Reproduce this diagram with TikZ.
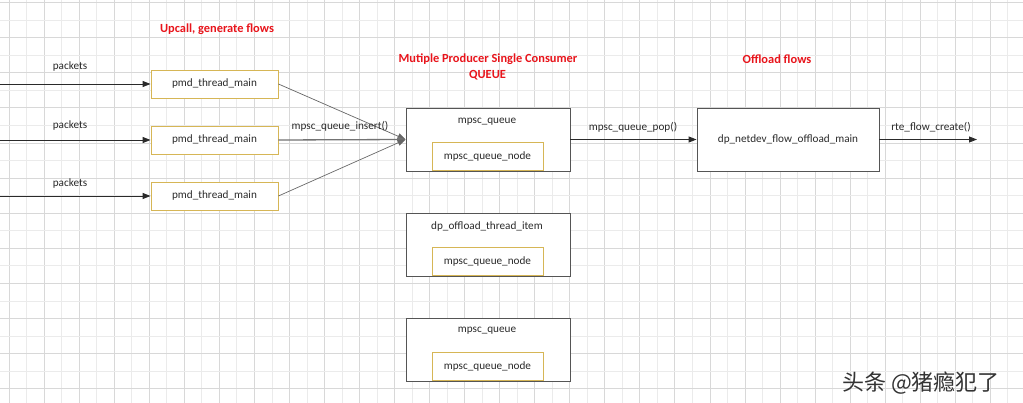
\documentclass[tikz,border=0pt]{standalone}
\usepackage{fontspec}
\setmainfont{Carlito}
\newfontfamily\cjk{Noto Sans CJK SC}
\usetikzlibrary{arrows.meta}
\definecolor{gold}{HTML}{D6B656}
\definecolor{boxline}{HTML}{555555}
\definecolor{txt}{HTML}{2A2A2A}
\definecolor{titlered}{RGB}{232,20,27}
\definecolor{gridminor}{HTML}{EBEBEB}
\definecolor{gridmajor}{HTML}{D8D8D8}
\begin{document}
\begin{tikzpicture}[x=1pt,y=-1pt,
  font=\fontsize{11.2}{13}\selectfont,
  txtnode/.style={inner sep=0pt,text=txt},
  title/.style={inner sep=0pt,text=titlered,font=\fontsize{12.4}{14}\selectfont\bfseries},
  goldbox/.style={draw=gold,line width=0.9pt,fill=white,inner sep=0pt,text=txt},
  greybox/.style={draw=boxline,line width=0.9pt,fill=white,inner sep=0pt,text=txt},
  flow/.style={draw=txt,line width=0.9pt,-{Triangle[length=8pt,width=6pt]}},
  merge/.style={draw=black!60,line width=0.7pt,-{Triangle[length=8pt,width=6pt]}}
]
\useasboundingbox (0,0) rectangle (1023,403);
\fill[white] (0,0) rectangle (1023,403);
% grid
\foreach \i in {0,...,58}{
  \pgfmathparse{mod(\i,2)==0 ? 1 : 0}
  \ifnum\pgfmathresult=1
    \draw[gridmajor,line width=0.6pt] ({9+17.52*\i},0) -- ({9+17.52*\i},403);
  \else
    \draw[gridminor,line width=0.6pt] ({9+17.52*\i},0) -- ({9+17.52*\i},403);
  \fi
}
\foreach \j in {0,...,22}{
  \pgfmathparse{mod(\j,2)==0 ? 1 : 0}
  \ifnum\pgfmathresult=1
    \draw[gridmajor,line width=0.6pt] (0,{2.5+17.55*\j}) -- (1023,{2.5+17.55*\j});
  \else
    \draw[gridminor,line width=0.6pt] (0,{2.5+17.55*\j}) -- (1023,{2.5+17.55*\j});
  \fi
}

% titles
\node[title] (t1) at (217,29) {Upcall, generate flows};
\node[title] (t2) at (488,59) {Mutiple Producer Single Consumer};
\node[title] (t3) at (487.5,75) {QUEUE};
\node[title] (t4) at (777,59) {Offload flows};

% pmd boxes
\node[goldbox,minimum width=127pt,minimum height=28pt] (p1) at (214.5,84) {pmd\_thread\_main};
\node[goldbox,minimum width=127pt,minimum height=28pt] (p2) at (214.5,140) {pmd\_thread\_main};
\node[goldbox,minimum width=127pt,minimum height=28pt] (p3) at (214.5,196) {pmd\_thread\_main};

\coordinate (s1) at (0,84);
\coordinate (s2) at (0,140);
\coordinate (s3) at (0,196);
\draw[flow] (s1) -- (p1.west);
\draw[flow] (s2) -- (p2.west);
\draw[flow] (s3) -- (p3.west);
\node[txtnode] (l1) at (70,67) {packets};
\node[txtnode] (l2) at (70,126) {packets};
\node[txtnode] (l3) at (70,184) {packets};

% mpsc queue box
\node[greybox,minimum width=164pt,minimum height=63pt] (q1) at (488,139.5) {};
\node[txtnode] (q1t) at (487,122) {mpsc\_queue};
\node[goldbox,minimum width=111pt,minimum height=28pt,anchor=south] (q1n) at (487.5,171) {mpsc\_queue\_node};

\draw[merge] (p1.east) -- (q1.west);
\draw[merge,draw=black!55,line width=1.3pt] (p2.east) -- (q1.west);
\draw[merge] (p3.east) -- (q1.west);
\node[txtnode] (lin) at (340,126) {mpsc\_queue\_insert()};

% offload main
\node[greybox,minimum width=182pt,minimum height=63pt] (d1) at (788,139.5) {dp\_netdev\_flow\_offload\_main};
\draw[flow] (q1.east) -- (d1.west);
\node[txtnode] (lpop) at (633,127) {mpsc\_queue\_pop()};
\coordinate (e1) at (977,139.5);
\draw[flow] (d1.east) -- (e1);
\node[txtnode] (lrte) at (931,127) {rte\_flow\_create()};

% dp_offload_thread_item
\node[greybox,minimum width=164pt,minimum height=63pt] (q2) at (488,244.5) {};
\node[txtnode] (q2t) at (487,227) {dp\_offload\_thread\_item};
\node[goldbox,minimum width=111pt,minimum height=28pt,anchor=south] (q2n) at (487.5,276) {mpsc\_queue\_node};

% mpsc queue (bottom)
\node[greybox,minimum width=164pt,minimum height=63pt] (q3) at (488,349.5) {};
\node[txtnode] (q3t) at (487,331) {mpsc\_queue};
\node[goldbox,minimum width=111pt,minimum height=28pt,anchor=south] (q3n) at (487.5,381) {mpsc\_queue\_node};

% watermark
\node[inner sep=0pt,text=black!80,font=\cjk\fontsize{22}{24}\selectfont] (wm) at (921,383) {头条 @猪瘾犯了};
\end{tikzpicture}
\end{document}
